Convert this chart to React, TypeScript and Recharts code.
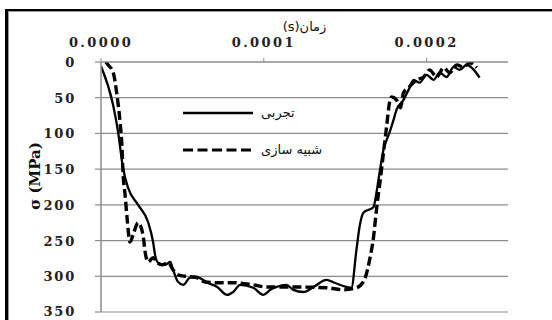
import React from 'react';
import { LineChart, Line, XAxis, YAxis, CartesianGrid, Legend, Label } from 'recharts';

// time in microseconds, stress in MPa
const timeExp = [0, 7.4, 10.5, 13.5, 16.6, 22.8, 28.9, 32, 33.2, 35.1, 39.4, 42.5, 44.3, 47.4, 50.5, 54.8, 59.7, 65.2, 71.4, 77.5, 81.2, 85.5, 93.5, 99.7, 104, 107.7, 113.8, 118.2, 124.3, 130.5, 138.5, 143.4, 150.8, 153.8, 156.9, 158.8, 161.2, 167.4, 169.2, 171.1, 173.5, 177.2, 179.7, 181.5, 185.8, 188.9, 192, 195.7, 200, 204.3, 208, 212.3, 216.6, 220.3, 224.6, 229, 232.6];
const stressExp = [6, 60, 98, 148, 176, 200, 224, 252, 270, 281, 284, 280, 291, 308, 312, 302, 302, 309, 315, 326, 322, 312, 316, 326, 319, 315, 312, 319, 322, 315, 305, 309, 315, 316, 263, 231, 211, 203, 183, 155, 123, 99, 81, 67, 53, 39, 25, 29, 18, 25, 15, 21, 7, 11, 4, 11, 22];

const timeSim = [3, 4.3, 7.4, 9.8, 11.7, 12.9, 13.5, 14.8, 16, 17.8, 19.7, 22.8, 25.8, 27.1, 28.9, 32, 34.5, 37.5, 41.2, 44.3, 47.4, 51.7, 57.8, 64, 71.4, 81.2, 93.5, 102, 116, 138.5, 149, 157, 161.8, 165, 167.4, 169.2, 170.5, 172.3, 173.5, 175.4, 177.2, 178.5, 181.5, 184, 185.8, 188.9, 193.8, 198.2, 201.8, 206.2, 210.5, 214.2, 218.5, 222.8, 226.5, 230.8];
const stressSim = [0, 4, 14, 46, 84, 120, 154, 186, 218, 252, 242, 225, 242, 266, 280, 274, 281, 284, 281, 291, 298, 300, 301, 308, 309, 309, 312, 315, 315, 316, 319, 316, 305, 277, 245, 207, 183, 151, 127, 91, 57, 49, 53, 64, 43, 36, 25, 21, 11, 21, 8, 15, 4, 7, 1, 8];

const xTicks = [0, 100, 200];
const xTickLabels = ['0.0000', '0.0001', '0.0002'];
const yTicks = [0, 50, 100, 150, 200, 250, 300, 350];

const seriesNames = ['تجربی', 'شبیه سازی'];
const xTitle = 'زمان(s)';
const yTitle = 'σ (MPa)';

const expData = timeExp.map((t, i) => ({ t, s: stressExp[i] }));
const simData = timeSim.map((t, i) => ({ t, s: stressSim[i] }));

const GRID = '#8c8c8c';
const SERIF = "'DejaVu Serif', 'Liberation Serif', 'Noto Serif', 'Tinos', 'Times New Roman', 'FreeSerif', 'Nimbus Roman', serif";
const tickStyle: React.CSSProperties = { fontFamily: SERIF, fontWeight: 'bold', fontSize: 13, fill: '#222' };

const XTick = (props: any) => {
  const { x, y, payload } = props;
  const idx = xTicks.indexOf(payload.value);
  return (
    <text x={x} y={y} textAnchor="middle" style={{ ...tickStyle, letterSpacing: 2.4 }}>
      {idx >= 0 ? xTickLabels[idx] : ''}
    </text>
  );
};

const YTick = (props: any) => {
  const { x, y, payload } = props;
  return (
    <text x={x} y={y + 5} textAnchor="end" style={{ ...tickStyle, letterSpacing: 1.8 }}>
      {payload.value}
    </text>
  );
};

const XTitle = (props: any) => {
  const vb = props.viewBox || { x: 101, width: 407 };
  return (
    <text x={vb.x + vb.width / 2} y={31} textAnchor="middle" direction="rtl" style={{ fontFamily: "'DejaVu Sans', sans-serif", fontSize: 13, fill: '#111' }}>
      {xTitle}
    </text>
  );
};

const YTitle = () => (
  <text x={35} y={176} transform="rotate(-90, 35, 176)" textAnchor="middle" dominantBaseline="central" style={{ fontFamily: SERIF, fontWeight: 'bold', fontSize: 15, fill: '#111' }}>
    {yTitle}
  </text>
);

const legendText: React.CSSProperties = { position: 'absolute', left: 78, fontFamily: "'DejaVu Sans', sans-serif", fontSize: 13, color: '#111', direction: 'rtl', lineHeight: '20px' };

const LegendBox = () => (
  <div style={{ position: 'relative', width: 180, height: 60 }}>
    <svg width={72} height={10} style={{ position: 'absolute', left: 0, top: 5 }}>
      <line x1={0} y1={5} x2={70} y2={5} stroke="#000" strokeWidth={2.5} />
    </svg>
    <span style={{ ...legendText, top: 0 }}>{seriesNames[0]}</span>
    <svg width={72} height={10} style={{ position: 'absolute', left: 0, top: 42 }}>
      <line x1={0} y1={5} x2={70} y2={5} stroke="#000" strokeWidth={3.2} strokeDasharray="10 4.5" />
    </svg>
    <span style={{ ...legendText, top: 37 }}>{seriesNames[1]}</span>
  </div>
);

export default function App() {
  return (
    <div style={{ position: 'absolute', left: 0, top: 0, width: 552, height: 320, background: '#fff', overflow: 'hidden' }}>
      <div style={{ position: 'absolute', left: 5, top: 9, width: 700, height: 500, borderLeft: '3px solid #000', borderTop: '3px solid #000' }} />
      <div style={{ position: 'absolute', left: 8, top: 11, width: 700, height: 500, borderLeft: '1.5px solid #999', borderTop: '1.5px solid #999' }} />
      <div style={{ position: 'absolute', left: 0, top: 0 }}>
        <LineChart width={552} height={320} margin={{ top: 32, right: 44, bottom: 8, left: 41 }}>
          <CartesianGrid vertical={false} stroke={GRID} strokeWidth={1.2} />
          <XAxis
            dataKey="t"
            type="number"
            orientation="top"
            domain={[0, 250]}
            ticks={xTicks}
            height={30}
            allowDataOverflow
            axisLine={{ stroke: GRID, strokeWidth: 1.2 }}
            tickLine={{ stroke: GRID }}
            tickSize={4}
            tickMargin={11}
            tick={<XTick />}
          >
            <Label content={<XTitle />} />
          </XAxis>
          <YAxis
            dataKey="s"
            type="number"
            reversed
            domain={[0, 350]}
            ticks={yTicks}
            width={60}
            allowDataOverflow
            axisLine={{ stroke: GRID, strokeWidth: 1.5 }}
            tickLine={{ stroke: GRID, strokeWidth: 1.2 }}
            tickSize={6}
            tickMargin={19}
            tick={<YTick />}
          >
            <Label content={<YTitle />} />
          </YAxis>
          <Legend
            layout="vertical"
            align="center"
            verticalAlign="middle"
            content={<LegendBox />}
            wrapperStyle={{ left: 183, top: 103, width: 180, height: 60 }}
          />
          <Line data={expData} dataKey="s" name={seriesNames[0]} type="monotone" stroke="#000" strokeWidth={2.3} dot={false} isAnimationActive={false} />
          <Line data={simData} dataKey="s" name={seriesNames[1]} type="monotone" stroke="#000" strokeWidth={3.4} strokeDasharray="9 4" dot={false} isAnimationActive={false} />
        </LineChart>
      </div>
    </div>
  );
}
